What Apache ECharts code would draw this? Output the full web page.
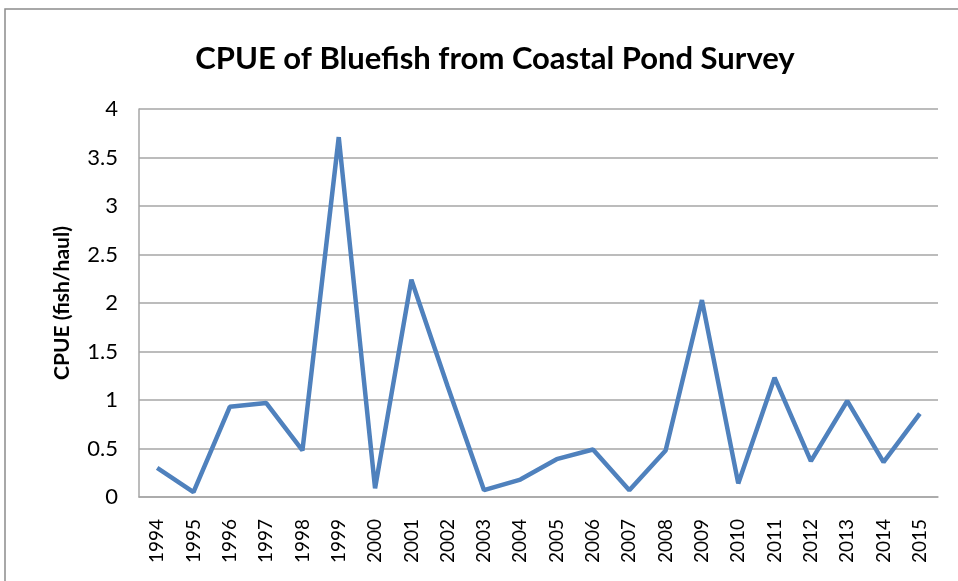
<!DOCTYPE html>
<html>
<head>
<meta charset="utf-8">
<script src="https://cdn.jsdelivr.net/npm/echarts@6/dist/echarts.min.js"></script>
<style>
  html, body { margin: 0; padding: 0; background: #fff; }
  #chart { width: 958px; height: 581px; }
</style>
</head>
<body>
<div id="chart"></div>
<script>
// 年份
const years = ['1994', '1995', '1996', '1997', '1998', '1999', '2000', '2001', '2002', '2003', '2004',
  '2005', '2006', '2007', '2008', '2009', '2010', '2011', '2012', '2013', '2014', '2015']
// CPUE (fish/haul)
const cpue = [0.30, 0.05, 0.93, 0.97, 0.48, 3.71, 0.09, 2.24, 1.14, 0.07, 0.18,
  0.39, 0.49, 0.07, 0.48, 2.03, 0.14, 1.23, 0.37, 0.99, 0.36, 0.86]

const font = 'Lato, "Open Sans", sans-serif'
const grey = '#a6a6a6'

let myChart = echarts.init(document.getElementById('chart'))
let option = {
  backgroundColor: '#fff',
  animation: false,
  title: {
    text: 'CPUE of Bluefish from Coastal Pond Survey',
    left: 490,
    top: 38,
    textAlign: 'center',
    textStyle: { fontFamily: font, fontSize: 31, fontWeight: 'bold', color: '#000' }
  },
  graphic: [
    {
      type: 'rect',
      shape: { x: 5, y: 9, width: 970, height: 590 },
      style: { fill: 'none', stroke: '#8c8c8c', lineWidth: 1.5 }
    }
  ],
  grid: { left: 139, right: 20, top: 109, bottom: 84 },
  xAxis: {
    type: 'category',
    data: years,
    boundaryGap: true,
    axisLine: { lineStyle: { color: grey, width: 1.5 } },
    axisTick: { show: false },
    axisLabel: { rotate: 90, margin: 22, fontFamily: font, fontSize: 19, color: '#000', interval: 0 }
  },
  yAxis: {
    type: 'value',
    min: 0,
    max: 4,
    interval: 0.5,
    name: 'CPUE (fish/haul)',
    nameLocation: 'middle',
    nameGap: 66,
    nameTextStyle: { fontFamily: font, fontSize: 21, fontWeight: 'bold', color: '#000' },
    axisLine: { show: true, lineStyle: { color: grey, width: 1.5 } },
    axisTick: { show: false },
    axisLabel: { margin: 21, fontFamily: font, fontSize: 22, color: '#000' },
    splitLine: { lineStyle: { color: grey, width: 1.5 } }
  },
  series: [
    {
      type: 'line',
      data: cpue,
      symbol: 'none',
      lineStyle: { color: '#4f81bd', width: 4.5 }
    }
  ]
}
myChart.setOption(option)
</script>
</body>
</html>
